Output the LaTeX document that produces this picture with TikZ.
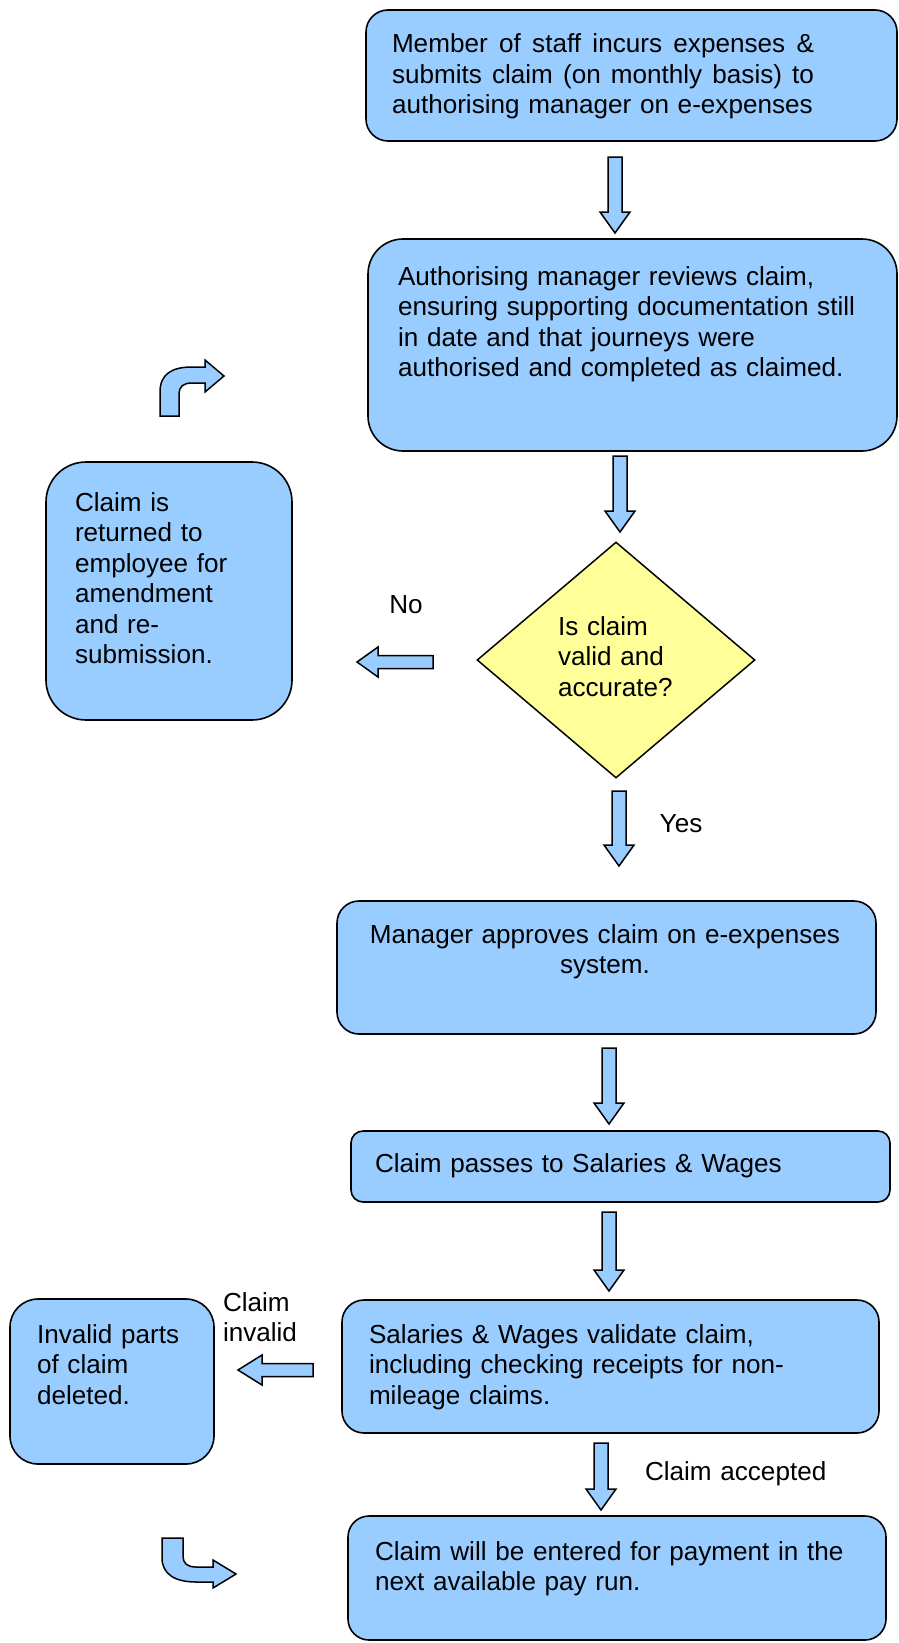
\documentclass[tikz,border=0pt]{standalone}
\usepackage{fontspec}
\setmainfont{Liberation Sans}
\usetikzlibrary{shapes.geometric}
\definecolor{boxblue}{RGB}{153,204,255}
\definecolor{diayel}{RGB}{255,255,153}
\newcommand\DnArr[3]{%
  \draw[blk] ({#1-7},#2) -- ({#1+7},#2) -- ({#1+7},{#3-21}) -- ({#1+15},{#3-21}) -- (#1,#3) -- ({#1-15},{#3-21}) -- ({#1-7},{#3-21}) -- cycle;}
\newcommand\LfArr[4]{% tip x, tail x, center y, head length
  \draw[blk] (#2,{#3-6.5}) -- ({#1+#4},{#3-6.5}) -- ({#1+#4},{#3-15}) -- (#1,#3) -- ({#1+#4},{#3+15}) -- ({#1+#4},{#3+6.5}) -- (#2,{#3+6.5}) -- cycle;}
\begin{document}
\begin{tikzpicture}[x=1pt,y=-1pt,
  box/.style={draw=black, line width=1.6pt, fill=boxblue, inner sep=0pt, outer sep=0pt},
  blk/.style={draw=black, line width=1.5pt, fill=boxblue, line join=miter},
  txt/.style={inner sep=0pt, outer sep=0pt, anchor=base west, align=left, font=\fontsize{26.1}{30.5}\selectfont},
  lbl/.style={inner sep=0pt, font=\fontsize{26.1}{30.5}\selectfont}]
\useasboundingbox (0,0) rectangle (898,1643);
% boxes
\node[box, rounded corners=22pt, minimum width=531pt, minimum height=131pt] (b1) at (631.5,75.5) {};
\node[box, rounded corners=35pt, minimum width=529pt, minimum height=212pt] (b2) at (632.5,345) {};
\node[draw=black, line width=1.5pt, fill=diayel, shape=diamond, inner sep=0pt, minimum width=278pt, minimum height=236pt] (d) at (616,660) {};
\node[box, rounded corners=40pt, minimum width=246pt, minimum height=258pt] (bl) at (169,591) {};
\node[box, rounded corners=22pt, minimum width=539pt, minimum height=133pt] (b3) at (606.5,967.5) {};
\node[box, rounded corners=12pt, minimum width=539pt, minimum height=71pt] (b4) at (620.5,1166.5) {};
\node[box, rounded corners=22pt, minimum width=537pt, minimum height=133pt] (b5) at (610.5,1366.5) {};
\node[box, rounded corners=28pt, minimum width=204pt, minimum height=165pt] (b6) at (112,1381.5) {};
\node[box, rounded corners=21pt, minimum width=538pt, minimum height=124pt] (b7) at (617,1578) {};
% texts
\node[txt, text width=425pt] (t1) at (392,53) {\makebox[422pt][l]{Member\hfill of\hfill staff\hfill incurs\hfill expenses\hfill \&}\\
\makebox[422pt][l]{submits\hfill claim\hfill (on\hfill monthly\hfill basis)\hfill to}\\
authorising manager on e-expenses};
\node[txt, text width=480pt] (t2) at (398,285) {Authorising manager reviews claim,\\ensuring supporting documentation still\\in date and that journeys were\\authorised and completed as claimed.};
\node[txt, text width=200pt] (tl) at (75,511) {Claim is\\returned to\\employee for\\amendment\\and re-\\submission.};
\node[txt, text width=150pt] (td) at (558,635) {Is claim\\valid and\\accurate?};
\node[lbl] (no) at (406,605) {No};
\node[lbl] (yes) at (681,824) {Yes};
\node[txt, text width=520pt, align=center, anchor=base] (t3) at (605,943) {Manager approves claim on e-expenses\\system.};
\node[txt, text width=500pt] (t4) at (375,1172) {Claim passes to Salaries \& Wages};
\node[txt, text width=500pt] (t5) at (369,1343) {Salaries \& Wages validate claim,\\including checking receipts for non-\\mileage claims.};
\node[txt, text width=100pt] (tci) at (223,1311) {Claim\\invalid};
\node[txt, text width=170pt] (t6) at (37,1343) {Invalid parts\\of claim\\deleted.};
\node[txt, text width=200pt] (tca) at (645,1480) {Claim accepted};
\node[txt, text width=500pt] (t7) at (375,1560) {Claim will be entered for payment in the\\next available pay run.};
% block arrows
\DnArr{615}{157}{233}
\DnArr{620}{456}{532}
\DnArr{619}{791}{866}
\DnArr{609}{1048}{1124}
\DnArr{609}{1212}{1291}
\DnArr{601}{1443}{1510}
\LfArr{357}{433}{662}{21}
\LfArr{238}{313}{1370}{24}
% bent arrows
\draw[blk] (160,416) -- (160,392) .. controls (160,374) and (172,367) .. (192,367) -- (205,367) -- (205,360) -- (224,376) -- (205,392) -- (205,383) -- (192,383) .. controls (183,383) and (179,387) .. (179,394) -- (179,416) -- cycle;
\draw[blk] (162,1538) -- (183,1538) -- (183,1556) .. controls (183,1563) and (187,1567) .. (196,1567) -- (213,1567) -- (213,1560) -- (236,1574) -- (213,1588) -- (213,1582) -- (196,1582) .. controls (175,1582) and (162,1574) .. (162,1558) -- cycle;
\end{tikzpicture}
\end{document}
